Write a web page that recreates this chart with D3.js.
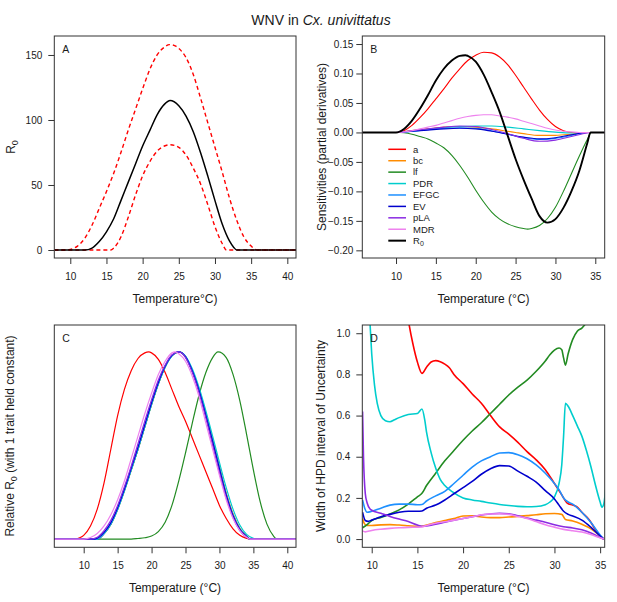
<!DOCTYPE html>
<html>
<head>
<meta charset="utf-8">
<script src="https://cdn.jsdelivr.net/npm/d3@7/dist/d3.min.js"></script>
<style>
	body { margin: 0; background: #fff; }
	svg { display: block; }
	text { font-family: "Liberation Sans", Arial, Helvetica, sans-serif; fill: #1a1a1a; }
</style>
</head>
<body>
<svg id="chart" width="617" height="602"></svg>
<script>
// values, as [temperature (°C), value]

// panel A: R0 mean and the dashed credible band
var r0Mean = [[7.8,0],[12,0],[13,1.5],[14,6.5],[15,14],[16,24],[17,38],[18,52],[19,66],[20,80],[21,92],[22,104],[23,112],[23.8,115],[25,111],[26,103],[27,91],[28,75],[29,57],[30,38],[31,20],[32,7],[32.6,2],[33,0],[41.2,0]]
var r0Upper = [[7.8,0],[9.5,0],[10,0.5],[11,3],[12,9],[13,19],[14,32],[15,45],[16,59],[17,75],[18,92],[19,108],[20,124],[21,139],[22,150],[23,156],[23.7,158],[24.5,157],[25,155],[26,148],[27,135],[28,117],[29,98],[30,79],[31,60],[32,40],[33,23],[34,10],[35,3],[35.8,0],[41.2,0]]
var r0Lower = [[7.8,0],[15.6,0],[16,1.5],[17,10],[18,25],[19,42],[20,57],[21,68],[22,76],[23,80],[23.8,81],[25,79],[26,73],[27,63],[28,51],[29,35],[30,18],[31,5],[31.6,0],[41.2,0]]

// panel B: sensitivities (partial derivatives)
var sensA = [[5.7,0],[10,0],[11,0.003],[12,0.012],[13,0.025],[14,0.04],[15,0.057],[16,0.074],[17,0.092],[18,0.108],[19,0.122],[20,0.131],[21,0.136],[22,0.135],[23,0.128],[24,0.115],[25,0.097],[26,0.077],[27,0.057],[28,0.038],[29,0.022],[30,0.01],[31,0.003],[32,0],[36.2,0]]
var sensBC = [[5.7,0],[10,0],[12,0.003],[14,0.006],[16,0.009],[18,0.01],[20,0.009],[22,0.006],[24,0.002],[25,0],[26,-0.002],[28,-0.005],[30,-0.005],[32,-0.003],[34,0],[36.2,0]]
var sensLF = [[5.7,0],[10.5,0],[11,-0.0005],[12,-0.003],[13,-0.007],[14,-0.011],[15,-0.018],[16,-0.026],[17,-0.039],[18,-0.056],[19,-0.076],[20,-0.098],[21,-0.118],[22,-0.135],[23,-0.147],[24,-0.155],[25,-0.16],[26,-0.163],[26.5,-0.164],[27,-0.163],[28,-0.158],[29,-0.146],[30,-0.127],[31,-0.1],[32,-0.07],[33,-0.04],[34,-0.012],[34.5,0],[36.2,0]]
var sensPDR = [[5.7,0],[10,0],[12,0.002],[14,0.005],[16,0.008],[18,0.01],[20,0.011],[22,0.011],[24,0.009],[26,0.006],[28,0.003],[30,0.0005],[32,-0.001],[34,0],[36.2,0]]
var sensEFGC = [[5.7,0],[10,0],[12,0.002],[14,0.005],[16,0.007],[18,0.008],[20,0.007],[22,0.003],[24,-0.003],[26,-0.009],[28,-0.012],[30,-0.01],[32,-0.005],[34,0],[36.2,0]]
var sensEV = [[5.7,0],[10,0],[12,0.002],[14,0.004],[16,0.006],[18,0.007],[20,0.006],[22,0.002],[24,-0.003],[26,-0.008],[28,-0.011],[30,-0.009],[32,-0.004],[34,0],[36.2,0]]
var sensPLA = [[5.7,0],[10,0],[12,0.003],[14,0.006],[16,0.009],[18,0.011],[20,0.01],[22,0.005],[24,-0.002],[26,-0.01],[28,-0.015],[30,-0.013],[32,-0.007],[34,-0.001],[34.5,0],[36.2,0]]
var sensMDR = [[5.7,0],[10,0],[11,0.001],[12,0.003],[13,0.006],[14,0.009],[15,0.012],[16,0.016],[17,0.02],[18,0.024],[19,0.027],[20,0.029],[21,0.03],[22,0.03],[23,0.028],[24,0.026],[25,0.023],[26,0.019],[27,0.015],[28,0.011],[29,0.007],[30,0.004],[31,0.002],[32,0.001],[33,0],[36.2,0]]
var sensR0 = [[5.7,0],[10,0],[11,0.006],[12,0.02],[13,0.04],[14,0.063],[15,0.088],[16,0.108],[17,0.122],[18,0.13],[18.7,0.131],[19,0.13],[20,0.12],[21,0.098],[22,0.068],[23,0.035],[24,-0.005],[25,-0.045],[26,-0.08],[27,-0.112],[28,-0.142],[29,-0.153],[30,-0.147],[31,-0.128],[32,-0.1],[33,-0.065],[34,-0.018],[34.4,0],[36.2,0]]

// panel C: relative R0 with one trait held constant
var relA = [[5.6,0],[8.8,0],[9.5,0.008],[10,0.02],[11,0.07],[12,0.16],[13,0.3],[14,0.48],[15,0.66],[16,0.8],[17,0.9],[18,0.965],[19,0.995],[19.6,1],[20,0.995],[21,0.96],[22,0.89],[23,0.8],[24,0.71],[25,0.63],[26,0.54],[27,0.45],[28,0.36],[29,0.27],[30,0.18],[31,0.11],[32,0.055],[33,0.02],[34,0.004],[34.5,0],[41.3,0]]
var relBC = [[5.6,0],[12,0],[13,0.028],[14,0.078],[15,0.158],[16,0.258],[17,0.368],[18,0.48],[19,0.6],[20,0.72],[21,0.83],[22,0.92],[23,0.98],[24,1],[25,0.975],[26,0.9],[27,0.8],[28,0.67],[29,0.53],[30,0.385],[31,0.245],[32,0.135],[33,0.058],[34,0.016],[34.6,0],[41.3,0]]
var relLF = [[5.6,0],[17,0],[18,0.003],[19,0.007],[20,0.016],[21,0.04],[22,0.09],[23,0.18],[24,0.31],[25,0.46],[26,0.62],[27,0.77],[28,0.89],[29,0.97],[29.8,1],[31,0.97],[32,0.88],[33,0.74],[34,0.56],[35,0.37],[36,0.2],[37,0.08],[38,0.015],[38.4,0],[41.3,0]]
var relPDR = [[5.6,0],[12,0],[13,0.028],[14,0.078],[15,0.157],[16,0.257],[17,0.367],[18,0.478],[19,0.598],[20,0.718],[21,0.828],[22,0.918],[23,0.978],[24,1],[25,0.978],[26,0.91],[27,0.81],[28,0.685],[29,0.55],[30,0.41],[31,0.275],[32,0.16],[33,0.075],[34,0.025],[35,0.004],[35.4,0],[41.3,0]]
var relEFGC = [[5.6,0],[12,0],[13,0.03],[14,0.082],[15,0.162],[16,0.262],[17,0.373],[18,0.485],[19,0.605],[20,0.725],[21,0.833],[22,0.922],[23,0.98],[24,1],[25,0.975],[26,0.9],[27,0.795],[28,0.665],[29,0.525],[30,0.38],[31,0.24],[32,0.13],[33,0.055],[34,0.015],[34.5,0],[41.3,0]]
var relEV = [[5.6,0],[11.6,0],[12,0.005],[13,0.036],[14,0.088],[15,0.168],[16,0.268],[17,0.38],[18,0.492],[19,0.612],[20,0.73],[21,0.838],[22,0.925],[23,0.982],[24,1],[25,0.974],[26,0.898],[27,0.792],[28,0.66],[29,0.52],[30,0.375],[31,0.235],[32,0.125],[33,0.052],[34,0.014],[34.5,0],[41.3,0]]
var relPLA = [[5.6,0],[11,0],[12,0.01],[13,0.045],[14,0.1],[15,0.18],[16,0.28],[17,0.39],[18,0.51],[19,0.63],[20,0.745],[21,0.85],[22,0.93],[23,0.985],[24,1],[25,0.97],[26,0.89],[27,0.78],[28,0.645],[29,0.5],[30,0.355],[31,0.22],[32,0.115],[33,0.045],[34,0.01],[34.5,0],[41.3,0]]
var relMDR = [[5.6,0],[10,0],[11,0.008],[12,0.03],[13,0.07],[14,0.13],[15,0.21],[16,0.31],[17,0.43],[18,0.55],[19,0.67],[20,0.78],[21,0.88],[22,0.95],[23,0.995],[23.5,1],[24,0.99],[25,0.95],[26,0.87],[27,0.76],[28,0.62],[29,0.48],[30,0.34],[31,0.21],[32,0.11],[33,0.045],[34,0.01],[34.5,0],[41.3,0]]
var relR0 = [[5.6,0],[12,0],[13,0.03],[14,0.08],[15,0.16],[16,0.26],[17,0.37],[18,0.48],[19,0.6],[20,0.72],[21,0.83],[22,0.92],[23,0.98],[24,1],[25,0.975],[26,0.9],[27,0.795],[28,0.665],[29,0.525],[30,0.38],[31,0.24],[32,0.13],[33,0.055],[34,0.015],[34.5,0],[41.3,0]]

// panel D: width of the HPD interval
var hpdA = [[13.7,1.15],[14.1,1.04],[14.5,0.95],[15,0.86],[15.5,0.805],[16,0.835],[16.5,0.86],[17,0.867],[17.5,0.862],[18,0.85],[18.5,0.832],[19,0.8],[20,0.755],[21,0.705],[22,0.66],[23,0.6],[24,0.545],[25,0.51],[26,0.47],[27,0.425],[28,0.385],[29,0.337],[30,0.27],[30.8,0.215],[31.4,0.175],[32,0.165],[32.5,0.155],[33,0.13],[33.8,0.094],[34.5,0.045],[35,0.015],[35.4,0]]
var hpdBC = [[9,0.1],[9.2,0.075],[9.5,0.066],[10,0.066],[11,0.069],[12,0.07],[13,0.068],[14,0.065],[15,0.062],[15.5,0.062],[16,0.068],[17,0.08],[18,0.09],[19,0.1],[20,0.112],[21,0.113],[22,0.107],[23,0.104],[24,0.104],[25,0.107],[26,0.11],[27,0.114],[28,0.118],[29,0.123],[30,0.124],[30.8,0.12],[31.2,0.095],[32,0.088],[33,0.072],[34,0.05],[35,0.015],[35.4,0]]
var hpdLF = [[9,0.055],[9.5,0.07],[10,0.09],[11,0.105],[12,0.122],[13,0.142],[14,0.17],[15,0.205],[15.5,0.222],[16,0.26],[17,0.32],[18,0.38],[19,0.43],[20,0.48],[21,0.525],[22,0.565],[23,0.61],[24,0.655],[25,0.7],[26,0.738],[27,0.772],[28,0.815],[29,0.865],[29.5,0.895],[30,0.918],[30.5,0.928],[30.8,0.92],[31,0.88],[31.2,0.845],[31.5,0.9],[32,0.97],[32.5,1.01],[33,1.025],[33.5,1.05],[34,1.07]]
var hpdPDR = [[9.75,1.1],[10,0.9],[10.3,0.75],[10.6,0.66],[11,0.6],[11.5,0.575],[12,0.57],[12.5,0.58],[13,0.59],[14,0.605],[15,0.61],[15.5,0.632],[15.8,0.58],[16,0.52],[16.5,0.42],[17,0.345],[17.5,0.29],[18,0.26],[18.8,0.23],[20,0.2],[21,0.19],[22,0.183],[23,0.175],[24,0.168],[25,0.163],[26,0.159],[27,0.157],[28,0.158],[29,0.167],[29.5,0.18],[30,0.205],[30.5,0.27],[30.8,0.36],[31,0.5],[31.2,0.66],[31.5,0.645],[32,0.6],[32.5,0.55],[33,0.5],[33.5,0.43],[34,0.35],[34.5,0.26],[35,0.18],[35.2,0.155],[35.4,0.17],[35.6,0.24]]
var hpdEFGC = [[9,0.19],[9.2,0.155],[9.5,0.13],[10,0.135],[11,0.15],[12,0.165],[13,0.17],[14,0.17],[15,0.167],[15.5,0.168],[16,0.185],[17,0.21],[18,0.232],[19,0.27],[20,0.31],[21,0.35],[22,0.38],[23,0.4],[24,0.418],[25,0.42],[26,0.41],[27,0.39],[28,0.36],[29,0.32],[30,0.27],[30.5,0.24],[31,0.2],[31.5,0.18],[32,0.17],[33,0.13],[34,0.08],[35,0.02],[35.4,0]]
var hpdEV = [[9,0.13],[9.3,0.09],[9.6,0.086],[10,0.092],[11,0.108],[12,0.12],[13,0.13],[14,0.135],[15,0.135],[15.5,0.136],[16,0.15],[17,0.165],[18,0.19],[19,0.22],[20,0.25],[21,0.28],[22,0.315],[23,0.342],[24,0.357],[25,0.355],[26,0.33],[27,0.305],[28,0.277],[29,0.235],[30,0.195],[30.5,0.165],[31,0.135],[31.5,0.12],[32,0.112],[33,0.092],[34,0.057],[35,0.015],[35.4,0]]
var hpdPLA = [[9,0.62],[9.1,0.4],[9.3,0.22],[9.5,0.175],[9.85,0.145],[10,0.14],[11,0.125],[12,0.11],[13,0.097],[14,0.085],[15,0.068],[15.5,0.062],[16,0.064],[17,0.072],[18,0.082],[19,0.092],[20,0.1],[21,0.108],[22,0.117],[23,0.122],[24,0.125],[25,0.123],[26,0.113],[27,0.102],[28,0.092],[29,0.082],[30,0.07],[31,0.06],[32,0.054],[33,0.045],[34,0.03],[35,0.008],[35.4,0]]
var hpdMDR = [[9,0.04],[9.3,0.035],[10,0.042],[11,0.048],[12,0.052],[13,0.055],[14,0.057],[15,0.058],[15.5,0.059],[16,0.066],[17,0.077],[18,0.084],[19,0.092],[20,0.1],[21,0.108],[22,0.118],[23,0.122],[24,0.123],[25,0.12],[26,0.11],[27,0.1],[28,0.085],[29,0.07],[30,0.058],[31,0.047],[32,0.04],[33,0.034],[34,0.022],[35,0.006],[35.4,0]]

var traitNames = ["a", "bc", "lf", "PDR", "EFGC", "EV", "pLA", "MDR", "R0"]
var traitColors = ["red", "darkorange", "forestgreen", "#00CDCD", "dodgerblue", "mediumblue", "blueviolet", "violet", "black"]

var xTicksA = [10, 15, 20, 25, 30, 35, 40], yTicksA = [0, 50, 100, 150]
var xTicksB = [10, 15, 20, 25, 30, 35], yTicksB = [0.15, 0.10, 0.05, 0, -0.05, -0.10, -0.15, -0.20]
var xTicksC = [10, 15, 20, 25, 30, 35, 40]
var xTicksD = [10, 15, 20, 25, 30, 35], yTicksD = [0, 0.2, 0.4, 0.6, 0.8, 1.0]

var chart = d3.select("#chart")
var defs = chart.append("defs")

function makePanel(id, box, xDom, yDom, xTicks, yTicks, yFmt, yPad) {
	var x = d3.scaleLinear().domain(xDom).range([box.l, box.r])
	var y = d3.scaleLinear().domain(yDom).range([box.b, box.t])
	defs.append("clipPath").attr("id", "clip" + id)
		.append("rect")
			.attr("x", box.l).attr("y", box.t)
			.attr("width", box.r - box.l).attr("height", box.b - box.t)

	var g = chart.append("g")
	var xa = g.append("g")
		.attr("transform", "translate(0," + box.b + ")")
		.call(d3.axisBottom(x).tickValues(xTicks).tickSize(6).tickPadding(9).tickFormat(d3.format("d")))
	styleAxis(xa)
	if (yTicks) {
		var ya = g.append("g")
			.attr("transform", "translate(" + box.l + ",0)")
			.call(d3.axisLeft(y).tickValues(yTicks).tickSize(6).tickPadding(yPad).tickFormat(yFmt))
		styleAxis(ya)
	}
	var plot = g.append("g").attr("clip-path", "url(#clip" + id + ")")
	var top = g.append("g")
	top.append("rect")
		.attr("x", box.l).attr("y", box.t)
		.attr("width", box.r - box.l).attr("height", box.b - box.t)
		.attr("fill", "none").attr("stroke", "#333").attr("stroke-width", 1)
	top.append("text")
		.attr("x", box.l + 8).attr("y", box.t + 16.5)
		.attr("font-size", "10.5px")
		.text(id)
	return { x: x, y: y, plot: plot, top: top }
}

function styleAxis(a) {
	a.select(".domain").remove()
	a.selectAll(".tick line").attr("stroke", "#333")
	a.selectAll(".tick text")
		.attr("font-family", "Liberation Sans, Arial, sans-serif")
		.attr("font-size", "10px")
		.attr("fill", "#1a1a1a")
}

function drawLine(p, data, color, width, dash) {
	var line = d3.line()
		.x(d => p.x(d[0]))
		.y(d => p.y(d[1]))
		.curve(d3.curveMonotoneX)
	p.plot.append("path")
		.attr("d", line(data))
		.attr("fill", "none")
		.attr("stroke", color)
		.attr("stroke-width", width)
		.attr("stroke-dasharray", dash || null)
		.attr("stroke-linejoin", "round")
}

function yTitle(xPos, yPos, parts) {
	var t = chart.append("text")
		.attr("font-size", "12px")
		.attr("text-anchor", "middle")
		.attr("transform", "translate(" + xPos + "," + yPos + ") rotate(-90)")
	parts.forEach(function (p) {
		t.append("tspan")
			.attr("font-size", p.sub ? "9px" : null)
			.attr("dy", p.sub ? 3 : (p.after ? -3 : null))
			.text(p.s)
	})
}

function xTitle(xPos, yPos, s) {
	chart.append("text")
		.attr("font-size", "12px")
		.attr("text-anchor", "middle")
		.attr("x", xPos).attr("y", yPos)
		.text(s)
}

// main title
var title = chart.append("text")
	.attr("x", 321).attr("y", 25.3)
	.attr("text-anchor", "middle")
	.attr("font-size", "14px")
title.append("tspan").text("WNV in ")
title.append("tspan").attr("font-style", "italic").text("Cx. univittatus")

// A
var pA = makePanel("A", { l: 54.3, r: 296, t: 36, b: 258 }, [7.79, 41.2], [-6.15, 164.6], xTicksA, yTicksA, d3.format("d"), 6)
drawLine(pA, r0Upper, "red", 1.4, "4,3")
drawLine(pA, r0Lower, "red", 1.4, "4,3")
drawLine(pA, r0Mean, "black", 1.5)
xTitle(175, 303, "Temperature°C)")
yTitle(15, 147, [{ s: "R" }, { s: "0", sub: true }])

// B
var pB = makePanel("B", { l: 362.3, r: 604.7, t: 36, b: 258 }, [5.77, 36.18], [-0.213, 0.1636], xTicksB, yTicksB, d3.format(".2f"), 3)
var sensSeries = [sensA, sensBC, sensLF, sensPDR, sensEFGC, sensEV, sensPLA, sensMDR, sensR0]
sensSeries.forEach(function (s, i) {
	drawLine(pB, s, traitColors[i], i == 8 ? 1.9 : 1.1)
})
xTitle(483.5, 303, "Temperature (°C)")
yTitle(326, 147, [{ s: "Sensitivities (partial derivatives)" }])

// legend for B
var leg = pB.top.append("g")
traitNames.forEach(function (n, i) {
	var yy = 149.3 + i * 11.42
	leg.append("line")
		.attr("x1", 388.3).attr("x2", 406)
		.attr("y1", yy).attr("y2", yy)
		.attr("stroke", traitColors[i])
		.attr("stroke-width", i == 8 ? 2 : 1.5)
	var t = leg.append("text")
		.attr("x", 413).attr("y", yy + 3.3)
		.attr("font-size", "9.5px")
	if (n == "R0") {
		t.append("tspan").text("R")
		t.append("tspan").attr("font-size", "7px").attr("dy", 2.5).text("0")
	} else {
		t.text(n)
	}
})

// C
var pC = makePanel("C", { l: 54.3, r: 296, t: 325, b: 547.3 }, [5.67, 41.28], [-0.044, 1.144], xTicksC, null)
var relSeries = [relR0, relA, relBC, relLF, relPDR, relEFGC, relEV, relPLA, relMDR]
var relColors = ["black"].concat(traitColors.slice(0, 8))
relSeries.forEach(function (s, i) {
	drawLine(pC, s, relColors[i], 1.2)
})
xTitle(175, 591.5, "Temperature (°C)")
yTitle(14, 436, [{ s: "Relative R" }, { s: "0", sub: true }, { s: " (with 1 trait held constant)", after: true }])

// D
var pD = makePanel("D", { l: 362.3, r: 604.7, t: 325, b: 547.3 }, [8.97, 35.5], [-0.04, 1.04], xTicksD, yTicksD, d3.format(".1f"), 6)
var hpdSeries = [hpdA, hpdBC, hpdLF, hpdPDR, hpdEFGC, hpdEV, hpdPLA, hpdMDR]
hpdSeries.forEach(function (s, i) {
	drawLine(pD, s, traitColors[i], 1.6)
})
xTitle(483.5, 591.5, "Temperature (°C)")
yTitle(325, 436, [{ s: "Width of HPD interval of Uncertainty" }])
</script>
</body>
</html>
